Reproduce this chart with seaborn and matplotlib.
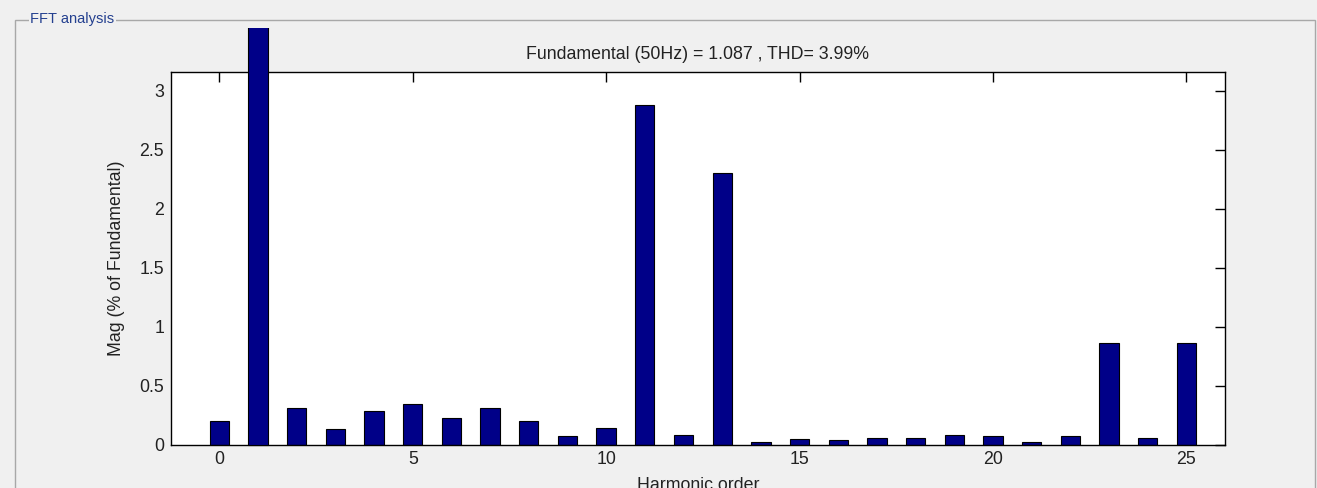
import matplotlib
matplotlib.use("Agg")
import matplotlib.pyplot as plt
import seaborn as sns
from matplotlib.patches import Rectangle
from matplotlib.ticker import FuncFormatter
from matplotlib.transforms import Bbox, TransformedBbox

# ---- data ----
harmonic_order = list(range(26))
magnitude = [0.20, 100.0, 0.31, 0.13, 0.285, 0.345, 0.225, 0.31, 0.20, 0.07,
             0.14, 2.88, 0.08, 2.30, 0.022, 0.045, 0.034, 0.056, 0.056, 0.081,
             0.07, 0.022, 0.07, 0.862, 0.056, 0.862]
x_ticks = [0, 5, 10, 15, 20, 25]
y_ticks = [0, 0.5, 1, 1.5, 2, 2.5, 3]
title_text = "Fundamental (50Hz) = 1.087 , THD= 3.99%"
x_label = "Harmonic order"
y_label = "Mag (% of Fundamental)"
panel_label = "FFT analysis"

sns.set_style("white")
plt.rcParams['font.family'] = ['Liberation Sans', 'DejaVu Sans']

W, H = 1317, 488
fig = plt.figure(figsize=(W / 100, H / 100), dpi=100, facecolor='#f0f0f0')
ax = fig.add_axes([171 / W, 1 - 444.5 / H, (1225 - 171) / W, (444.5 - 72) / H])
ax.set_facecolor('white')

sns.barplot(x=harmonic_order, y=magnitude, native_scale=True, width=0.5,
            color='#000088', saturation=1, edgecolor='black', linewidth=0.8,
            errorbar=None, ax=ax)

ax.set_xlim(-1.25, 26)
ax.set_ylim(0, 3.16)
ax.set_xticks(x_ticks)
ax.set_yticks(y_ticks)
ax.yaxis.set_major_formatter(FuncFormatter(lambda v, p: f"{v:g}"))
ax.xaxis.set_major_formatter(FuncFormatter(lambda v, p: f"{v:g}"))

fs = 12.8
ax.tick_params(direction='in', top=True, right=True, length=7.5, width=1,
               labelsize=fs, colors='black', pad=5)
ax.tick_params(axis='x', labelcolor='#222222')
ax.tick_params(axis='y', labelcolor='#222222')
for s in ax.spines.values():
    s.set_visible(True)
    s.set_color('black')
    s.set_linewidth(1)

ax.set_title(title_text, fontsize=fs, pad=9.5, color='#222222')
ax.set_xlabel(x_label, fontsize=fs, labelpad=6, color='#222222')
ax.set_ylabel(y_label, fontsize=fs, labelpad=10, color='#222222')

# Fundamental bar extends beyond the axes, clipped by the panel
fund = ax.patches[harmonic_order.index(1)]
fund.set_zorder(3)
fund.set_clip_box(TransformedBbox(Bbox.from_extents(0, 0, 1, 1 - 28 / H), fig.transFigure))

# Group-box panel frame
fig.add_artist(Rectangle((15 / W, -0.05), (1315 - 15) / W, (H - 20) / H + 0.05,
                         transform=fig.transFigure, facecolor='none',
                         edgecolor='#a8a8a8', linewidth=1, zorder=0))
fig.text(30 / W, 1 - 19 / H, panel_label, fontsize=10.5, color='#24408f',
         va='center', ha='left',
         bbox=dict(facecolor='#f0f0f0', edgecolor='none', pad=1))

fig.savefig('out.png', dpi=100, facecolor=fig.get_facecolor())
